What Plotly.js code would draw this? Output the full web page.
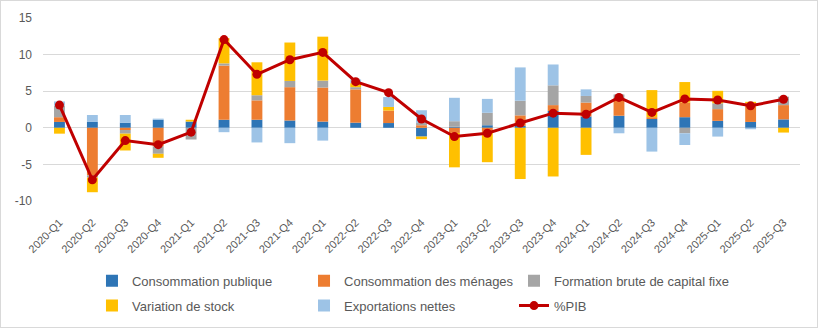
<!DOCTYPE html>
<html>
<head>
<meta charset="utf-8">
<script src="https://cdn.plot.ly/plotly-3.0.1.min.js"></script>
<style>
  html, body { margin: 0; padding: 0; background: #fff; }
  #chart { width: 818px; height: 328px; box-sizing: border-box; border: 1px solid #d9d9d9; }
</style>
</head>
<body>
<div id="chart"></div>
<script>
var quarters = ['2020-Q1','2020-Q2','2020-Q3','2020-Q4','2021-Q1','2021-Q2','2021-Q3','2021-Q4',
  '2022-Q1','2022-Q2','2022-Q3','2022-Q4','2023-Q1','2023-Q2','2023-Q3','2023-Q4',
  '2024-Q1','2024-Q2','2024-Q3','2024-Q4','2025-Q1','2025-Q2','2025-Q3'];

var consoPublique = [0.8, 0.8, 0.7, 1.1, 0.85, 1.1, 1.1, 1.0, 0.85, 0.7, 0.65, -1.2,
  0.15, 0.35, 0.25, 2.3, 1.55, 1.65, 1.2, 1.45, 0.95, 0.8, 1.15];
var consoMenages = [0.65, -6.5, -0.3, -2.55, 0, 7.4, 2.65, 4.55, 4.65, 4.55, 1.7, 0.35,
  -0.7, -0.6, 1.45, 0.8, 1.9, 2.4, 0.25, 2.0, 1.6, 2.55, 1.95];
var fbcf = [1.55, -0.3, -0.5, -1.0, -1.6, 0.3, 0.7, 0.85, 0.95, 0.3, 0, 0.3,
  0.75, 1.7, 2.0, 2.7, 0.9, 0.5, 0, -0.75, 0.8, 0, 1.15];
var variationStock = [-0.8, -2.0, -2.3, -0.55, 0.25, 3.45, 4.5, 5.25, 6.0, 0.55, 0.5, -0.35,
  -4.7, -4.1, -7.0, -6.65, -3.7, 0, 3.7, 2.8, 1.7, 0.2, -0.65];
var exportationsNettes = [0.6, 0.95, 1.05, 0.15, 0, -0.6, -2.0, -2.1, -1.75, 0.5, 1.35, 1.75,
  3.2, 1.9, 4.55, 2.85, 0.9, -0.75, -3.25, -1.6, -1.2, -0.2, 0];
var pib = [3.1, -7.1, -1.75, -2.3, -0.6, 12.05, 7.3, 9.3, 10.3, 6.3, 4.8, 1.2,
  -1.2, -0.75, 0.65, 2.0, 1.85, 4.15, 2.1, 3.95, 3.8, 3.0, 3.9];

var yTicks = [-10, -5, 0, 5, 10, 15];
var yTickLabels = ['-10', '-5', '0', '5', '10', '15'];

function bar(name, values, color, legendId) {
  return { type: 'bar', name: name, x: quarters, y: values, marker: { color: color },
    legend: legendId, legendgroup: name };
}

var traces = [
  bar('Consommation publique', consoPublique, '#2E75B6', 'legend'),
  bar('Consommation des ménages', consoMenages, '#ED7D31', 'legend2'),
  bar('Formation brute de capital fixe', fbcf, '#A5A5A5', 'legend3'),
  bar('Variation de stock', variationStock, '#FFC000', 'legend'),
  bar('Exportations nettes', exportationsNettes, '#9DC3E6', 'legend2'),
  { type: 'scatter', mode: 'lines+markers', name: '%PIB', x: quarters, y: pib,
    legend: 'legend3', legendgroup: '%PIB',
    line: { color: '#C00000', width: 3 }, marker: { color: '#C00000', size: 9 } }
];

function legendAt(xp) {
  return {
    orientation: 'v', x: xp, xanchor: 'left', yref: 'container', y: 0.188, yanchor: 'top',
    traceorder: 'grouped', tracegroupgap: 5, bgcolor: 'rgba(0,0,0,0)',
    font: { size: 13, color: '#595959' }
  };
}

var layout = {
  width: 816, height: 326,
  margin: { l: 42, r: 17, t: 17, b: 126 },
  paper_bgcolor: '#ffffff', plot_bgcolor: '#ffffff',
  barmode: 'relative', bargap: 0.67,
  font: { family: 'Liberation Sans, Arial, sans-serif', color: '#595959', size: 12 },
  xaxis: {
    type: 'category', range: [-0.5, quarters.length - 0.5], tickangle: -45,
    showgrid: false, showline: false, zeroline: false,
    ticks: '', tickfont: { size: 11, color: '#595959' }, ticklabelstandoff: 12
  },
  yaxis: {
    range: [-10, 15], tickvals: yTicks, ticktext: yTickLabels, showgrid: true,
    gridcolor: '#D9D9D9', gridwidth: 1,
    zeroline: false, showline: false, ticks: '', tickfont: { size: 12, color: '#595959' },
    ticklabelstandoff: 10
  },
  legend: legendAt(0.0647),
  legend2: legendAt(0.3448),
  legend3: legendAt(0.6222),
  showlegend: true
};

Plotly.newPlot('chart', traces, layout, { displayModeBar: false, staticPlot: true });
</script>
</body>
</html>
